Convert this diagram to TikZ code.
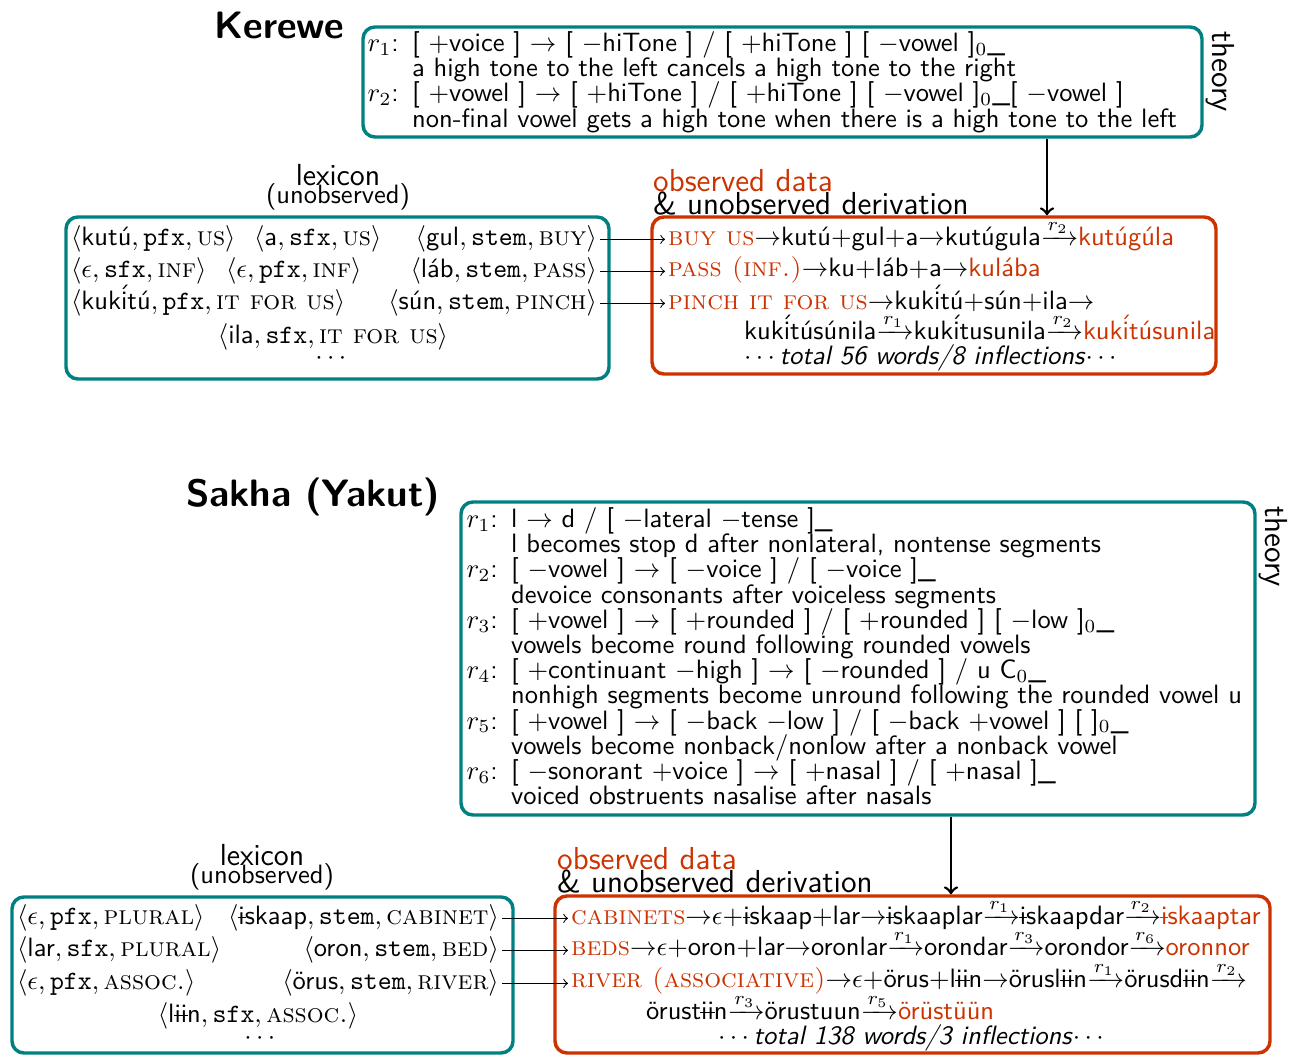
\documentclass[tikz,border=0pt]{standalone}
\usepackage{amsmath}
\usetikzlibrary{fit}
\definecolor{theorycol}{RGB}{0,128,128}
\definecolor{obscol}{RGB}{204,51,0}
\renewcommand{\familydefault}{\sfdefault}
% lexicon entry: form, role, meaning
\newcommand{\lex}[3]{$\langle\text{#1},\texttt{#2},\textrm{\textsc{#3}}\rangle$}
\newcommand{\barri}{\ooalign{i\cr\hidewidth\rule[0.6ex]{0.3em}{0.07ex}\hidewidth\cr}}
\newcommand{\iacute}{{\accent"B4 i}}
\newcommand{\obs}[1]{\textcolor{obscol}{#1}}
\newcommand{\gloss}[1]{\textcolor{obscol}{\textrm{\textsc{#1}}}}
% rule label and continuation indent
\newcommand{\rl}[1]{\makebox[1.68em][l]{$r_{#1}$:}}
\newcommand{\rc}{\hspace*{1.68em}}
\tikzset{
  theorybox/.style={draw=theorycol, line width=1.3pt, rounded corners=4.5pt, inner sep=0pt},
  databox/.style={draw=obscol, line width=1.3pt, rounded corners=4.5pt, inner sep=0pt},
  ruletext/.style={anchor=north west, inner sep=0pt, align=left,
    font={\fontsize{10}{9.5}\selectfont\lineskiplimit=-20pt}},
  derivrow/.style={anchor=base west},
  boxtitle/.style={font=\fontsize{11.5}{12}\selectfont},
  langname/.style={font=\Large\bfseries},
  sidelabel/.style={font=\large, rotate=-90, anchor=west},
  feed/.style={->},
  theoryarrow/.style={->, line width=1pt}
}
\begin{document}
\begin{tikzpicture}[x=0.377pt, y=-0.377pt, every node/.style={inner sep=1pt}]
\useasboundingbox (0,0) rectangle (1298,1056);

% ---------- Kerewe ----------
\node[langname] (kname) at (279,25) {Kerewe};
\node[theorybox, fit={(363,27) (1202,137)}] (ktheory) {};
\node[ruletext] (krules) at (367,31) {%
\rl1[ $+$voice ] $\rightarrow$ [ $-$hiTone ] / [ $+$hiTone ] [ $-$vowel ]$_0$\_\\
\rc a high tone to the left cancels a high tone to the right\\
\rl2[ $+$vowel ] $\rightarrow$ [ $+$hiTone ] / [ $+$hiTone ] [ $-$vowel ]$_0$\_[ $-$vowel ]\\
\rc non-final vowel gets a high tone when there is a high tone to the left};
\node[sidelabel] (ktheorylbl) at (1220,28) {theory};

\node[boxtitle] (klexlbl) at (338,175) {lexicon};
\node (klexsub) at (338,197) {(unobserved)};
\node[theorybox, fit={(66,217) (609,379)}] (klexbox) {};
\node[anchor=base west] (kkutu) at (68,246) {\lex{kutú}{pfx}{us}};
\node[anchor=base west] (ka) at (251,246) {\lex{a}{sfx}{us}};
\node[anchor=base east] (kgul) at (600,246) {\lex{gul}{stem}{buy}};
\node[anchor=base west] (keps1) at (68,278) {\lex{$\epsilon$}{sfx}{inf}};
\node[anchor=base west] (keps2) at (223,278) {\lex{$\epsilon$}{pfx}{inf}};
\node[anchor=base east] (klab) at (600,278) {\lex{láb}{stem}{pass}};
\node[anchor=base west] (kkuki) at (68,310) {\lex{kuk\iacute tú}{pfx}{it for us}};
\node[anchor=base east] (ksun) at (600,310) {\lex{sún}{stem}{pinch}};
\node[anchor=base] (kila) at (333,344) {\lex{ila}{sfx}{it for us}};
\node (kdots) at (333,359) {$\cdots$};

\node[font=\large, anchor=west, text=obscol] (kobslbl) at (650,181) {observed data};
\node[font=\large, anchor=west] (kderlbl) at (650,203) {\& unobserved derivation};
\node[databox, fit={(652,217) (1216,374)}] (kdatabox) {};
\node[derivrow] (kd1) at (665,246) {\gloss{buy us}$\rightarrow$kutú$+$gul$+$a$\rightarrow$kutúgula$\xrightarrow{r_2}$\obs{kutúgúla}};
\node[derivrow] (kd2) at (665,277) {\gloss{pass (inf.)}$\rightarrow$ku$+$láb$+$a$\rightarrow$\obs{kulába}};
\node[derivrow] (kd3) at (665,310) {\gloss{pinch it for us}$\rightarrow$kuk\iacute tú$+$sún$+$ila$\rightarrow$};
\node[derivrow] (kd4) at (741,340) {kuk\iacute túsúnila$\xrightarrow{r_1}$kuk\iacute tusunila$\xrightarrow{r_2}$\obs{kuk\iacute túsunila}};
\node[derivrow] (kd5) at (741,365) {$\cdots$\textit{total 56 words/8 inflections}$\cdots$};

\draw[feed] (kgul.east) -- (kgul.east -| kd1.west);
\draw[feed] (klab.east) -- (klab.east -| kd2.west);
\draw[feed] (ksun.east) -- (ksun.east -| kd3.west);
\coordinate (karrow) at (1047,0);
\draw[theoryarrow] (ktheory.south -| karrow) -- (kdatabox.north -| karrow);

% ---------- Sakha ----------
\node[langname] (sname) at (313,497) {Sakha (Yakut)};
\node[theorybox, fit={(461,502) (1255,815)}] (stheory) {};
\node[ruletext] (srules) at (466,507) {%
\rl1l $\rightarrow$ d / [ $-$lateral $-$tense ]\_\\
\rc l becomes stop d after nonlateral, nontense segments\\
\rl2[ $-$vowel ] $\rightarrow$ [ $-$voice ] / [ $-$voice ]\_\\
\rc devoice consonants after voiceless segments\\
\rl3[ $+$vowel ] $\rightarrow$ [ $+$rounded ] / [ $+$rounded ] [ $-$low ]$_0$\_\\
\rc vowels become round following rounded vowels\\
\rl4[ $+$continuant $-$high ] $\rightarrow$ [ $-$rounded ] / u C$_0$\_\\
\rc nonhigh segments become unround following the rounded vowel u\\
\rl5[ $+$vowel ] $\rightarrow$ [ $-$back $-$low ] / [ $-$back $+$vowel ] [ ]$_0$\_\\
\rc vowels become nonback/nonlow after a nonback vowel\\
\rl6[ $-$sonorant $+$voice ] $\rightarrow$ [ $+$nasal ] / [ $+$nasal ]\_\\
\rc voiced obstruents nasalise after nasals};
\node[sidelabel] (stheorylbl) at (1273,503) {theory};

\node[boxtitle] (slexlbl) at (262,855) {lexicon};
\node (slexsub) at (262,877) {(unobserved)};
\node[theorybox, fit={(12,897) (513,1053)}] (slexbox) {};
\node[anchor=base west] (seps1) at (14,925) {\lex{$\epsilon$}{pfx}{plural}};
\node[anchor=base east] (siskaap) at (502,925) {\lex{\barri skaap}{stem}{cabinet}};
\node[anchor=base west] (slar) at (14,957) {\lex{lar}{sfx}{plural}};
\node[anchor=base east] (soron) at (502,957) {\lex{oron}{stem}{bed}};
\node[anchor=base west] (seps2) at (14,990) {\lex{$\epsilon$}{pfx}{assoc.}};
\node[anchor=base east] (sorus) at (502,990) {\lex{örus}{stem}{river}};
\node[anchor=base] (sliin) at (258,1023) {\lex{l\barri\barri n}{sfx}{assoc.}};
\node (sdots) at (262,1039) {$\cdots$};

\node[font=\large, anchor=west, text=obscol] (sobslbl) at (554,859) {observed data};
\node[font=\large, anchor=west] (sderlbl) at (554,881) {\& unobserved derivation};
\node[databox, fit={(555,896) (1270,1053)}] (sdatabox) {};
\node[derivrow] (sd1) at (568,925) {\gloss{cabinets}$\rightarrow$$\epsilon$$+$\barri skaap$+$lar$\rightarrow$\barri skaaplar$\xrightarrow{r_1}$\barri skaapdar$\xrightarrow{r_2}$\obs{\barri skaaptar}};
\node[derivrow] (sd2) at (568,956) {\gloss{beds}$\rightarrow$$\epsilon$$+$oron$+$lar$\rightarrow$oronlar$\xrightarrow{r_1}$orondar$\xrightarrow{r_3}$orondor$\xrightarrow{r_6}$\obs{oronnor}};
\node[derivrow] (sd3) at (568,988) {\gloss{river (associative)}$\rightarrow$$\epsilon$$+$örus$+$l\barri\barri n$\rightarrow$örusl\barri\barri n$\xrightarrow{r_1}$örusd\barri\barri n$\xrightarrow{r_2}$};
\node[derivrow] (sd4) at (643,1020) {örust\barri\barri n$\xrightarrow{r_3}$örustuun$\xrightarrow{r_5}$\obs{örüstüün}};
\node[derivrow] (sd5) at (715,1045) {$\cdots$\textit{total 138 words/3 inflections}$\cdots$};

\draw[feed] (siskaap.east) -- (siskaap.east -| sd1.west);
\draw[feed] (soron.east) -- (soron.east -| sd2.west);
\draw[feed] (sorus.east) -- (sorus.east -| sd3.west);
\coordinate (sarrow) at (951,0);
\draw[theoryarrow] (stheory.south -| sarrow) -- (sdatabox.north -| sarrow);
\end{tikzpicture}
\end{document}
